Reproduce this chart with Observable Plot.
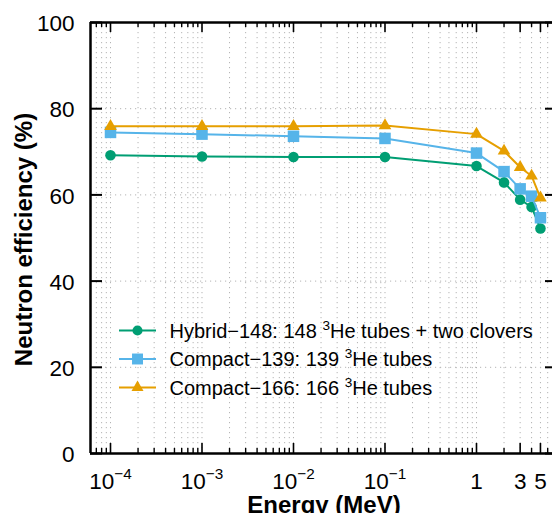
<!DOCTYPE html>
<html><head><meta charset="utf-8">
<script src="https://cdn.jsdelivr.net/npm/d3@7"></script>
<script src="https://cdn.jsdelivr.net/npm/@observablehq/plot@0.6"></script>
<style>
html,body{margin:0;padding:0;background:#fff;}
#chart{width:552px;height:513px;overflow:hidden;position:relative;}
#chart svg{overflow:hidden;}
</style>
</head><body><div id="chart"></div>
<script>
// ---- data ----
const energies = [1e-4, 1e-3, 1e-2, 1e-1, 1, 2, 3, 4, 5];
const hybrid148 = [69.2, 68.9, 68.8, 68.8, 66.7, 62.9, 58.9, 57.2, 52.2];
const compact139 = [74.5, 74.1, 73.6, 73.1, 69.7, 65.4, 61.4, 59.7, 54.7];
const compact166 = [75.9, 75.9, 75.9, 76.1, 74.1, 70.2, 66.4, 64.4, 59.3];
const seriesNames = [
  "Hybrid−148: 148 {3}He tubes + two clovers",
  "Compact−139: 139 {3}He tubes",
  "Compact−166: 166 {3}He tubes"
];
const seriesValues = [hybrid148, compact139, compact166];
const seriesColors = ["#009E73", "#56B4E9", "#E69F00"];
const seriesSymbols = ["circle", "square", "triangle"];
const seriesR = [5.3, 6.5, 4.7];
const xLabelTicks = [1e-4, 1e-3, 1e-2, 1e-1, 1, 3, 5];
const xTickLabels = ["10{−4}", "10{−3}", "10{−2}", "10{−1}", "1", "3", "5"];
const yTicks = [0, 20, 40, 60, 80, 100];
const yGrid = [20, 40, 60, 80];
const xTitle = "Energy (MeV)";
const yTitle = "Neutron efficiency (%)";

// ---- layout ----
const W = 552, H = 513;
const mL = 90, mT = 22, mB = 60, mR = 0;
const xRange = [90, 557];
const xDomain = [6.045e-5, 7.68];
const plotH = H - mT - mB;
const plotW = W - mL - mR;
const FONT = "'Liberation Sans', Arial, Helvetica, sans-serif";

// axis tick positions (log minor ticks)
const allTicks = [];
for (let e = -5; e <= 0; e++) for (let m = 1; m <= 9; m++) {
  const v = m * Math.pow(10, e);
  if (v >= xDomain[0] && v <= 6.5) allTicks.push(+v.toPrecision(3));
}
const majorTicks = allTicks.filter(v => xLabelTicks.some(t => Math.abs(t - v) / t < 1e-6));
const minorTicks = allTicks.filter(v => !majorTicks.includes(v));

const rows = [];
seriesValues.forEach((vals, s) => vals.forEach((v, i) => rows.push({series: s, energy: energies[i], eff: v})));

const hline = {draw(ctx) { ctx.moveTo(-18.5, 0); ctx.lineTo(18.5, 0); }};

const gridStyle = {stroke: "#b4b4b4", strokeWidth: 1, strokeDasharray: "1.2,3.8"};
const marks = [
  Plot.ruleX(allTicks, {x: d => d, ...gridStyle}),
  Plot.ruleY(yGrid, {y: d => d, ...gridStyle}),
  // frame
  Plot.ruleY([0, 100], {y: d => d, stroke: "#000", strokeWidth: 2.5}),
  Plot.ruleX([xDomain[0]], {x: d => d, stroke: "#000", strokeWidth: 2.5}),
  // x ticks bottom/top
  Plot.ruleX(majorTicks, {x: d => d, insetTop: plotH - 10, stroke: "#000", strokeWidth: 1.6}),
  Plot.ruleX(minorTicks, {x: d => d, insetTop: plotH - 5, stroke: "#000", strokeWidth: 1.4}),
  Plot.ruleX(majorTicks, {x: d => d, insetBottom: plotH - 10, stroke: "#000", strokeWidth: 1.6}),
  Plot.ruleX(minorTicks, {x: d => d, insetBottom: plotH - 5, stroke: "#000", strokeWidth: 1.4}),
  // y ticks left/right
  Plot.ruleY(yTicks, {y: d => d, insetRight: plotW - 12, stroke: "#000", strokeWidth: 2}),
  Plot.ruleY(yTicks, {y: d => d, insetLeft: plotW - 7, stroke: "#000", strokeWidth: 2}),
];

seriesValues.forEach((vals, s) => {
  const data = rows.filter(r => r.series === s);
  marks.push(Plot.line(data, {x: "energy", y: "eff", stroke: seriesColors[s], strokeWidth: 2}));
  marks.push(Plot.dot(data, {x: "energy", y: "eff", symbol: seriesSymbols[s], r: seriesR[s], fill: seriesColors[s], stroke: "none"}));
});

// legend
seriesNames.forEach((name, s) => {
  const dy = 308 + s * 28.5;
  marks.push(Plot.dot([name], {frameAnchor: "top-left", dx: 47, dy, symbol: hline, r: 5, fill: "none", stroke: seriesColors[s], strokeWidth: 2}));
  marks.push(Plot.dot([name], {frameAnchor: "top-left", dx: 47, dy, symbol: seriesSymbols[s], r: seriesR[s] * 0.95, fill: seriesColors[s], stroke: "none"}));
  marks.push(Plot.text([name], {frameAnchor: "top-left", dx: 79, dy: dy + 1, text: d => d, textAnchor: "start", lineAnchor: "middle", fontSize: 20, fill: "#000"}));
});

// tick labels
marks.push(Plot.text(xLabelTicks, {x: d => d, text: (d, i) => xTickLabels[i], frameAnchor: "bottom", dy: 35, textAnchor: "middle", lineAnchor: "bottom", fontSize: 22.5, fill: "#000"}));
marks.push(Plot.text(yTicks, {y: d => d, text: d => String(d), frameAnchor: "left", dx: -16, dy: 1.5, textAnchor: "end", lineAnchor: "middle", fontSize: 22.5, fill: "#000"}));
// axis titles
marks.push(Plot.text([xTitle], {frameAnchor: "bottom", text: d => d, dx: 2.5, dy: 59, textAnchor: "middle", lineAnchor: "bottom", fontSize: 24, fontWeight: "bold", fill: "#000"}));
marks.push(Plot.text([yTitle], {frameAnchor: "left", text: d => d, rotate: -90, dx: -66.5, dy: 1.5, textAnchor: "middle", lineAnchor: "middle", fontSize: 24, fontWeight: "bold", fill: "#000"}));

const chart = Plot.plot({
  width: W, height: H,
  marginLeft: mL, marginRight: mR, marginTop: mT, marginBottom: mB,
  style: {fontFamily: FONT, background: "#fff", overflow: "hidden"},
  x: {type: "log", domain: xDomain, range: xRange, axis: null},
  y: {domain: [0, 100], axis: null},
  marks
});
document.getElementById("chart").appendChild(chart);

// superscript rendering for "{...}" segments
const NS = "http://www.w3.org/2000/svg";
chart.querySelectorAll("text").forEach(t => {
  const s = t.textContent;
  if (!s.includes("{")) return;
  const fs = parseFloat(getComputedStyle(t).fontSize) || 20;
  const raise = Math.round(fs * 0.42 * 10) / 10;
  const parts = s.split(/\{([^}]*)\}/);
  t.textContent = "";
  let raised = false;
  parts.forEach((p, i) => {
    if (p === "") return;
    const ts = document.createElementNS(NS, "tspan");
    ts.textContent = p;
    if (i % 2 === 1) {
      ts.setAttribute("font-size", (fs * 0.68).toFixed(1));
      ts.setAttribute("dy", -raise);
      raised = true;
    } else if (raised) {
      ts.setAttribute("dy", raise);
      raised = false;
    }
    t.appendChild(ts);
  });
});
</script>
</body></html>
